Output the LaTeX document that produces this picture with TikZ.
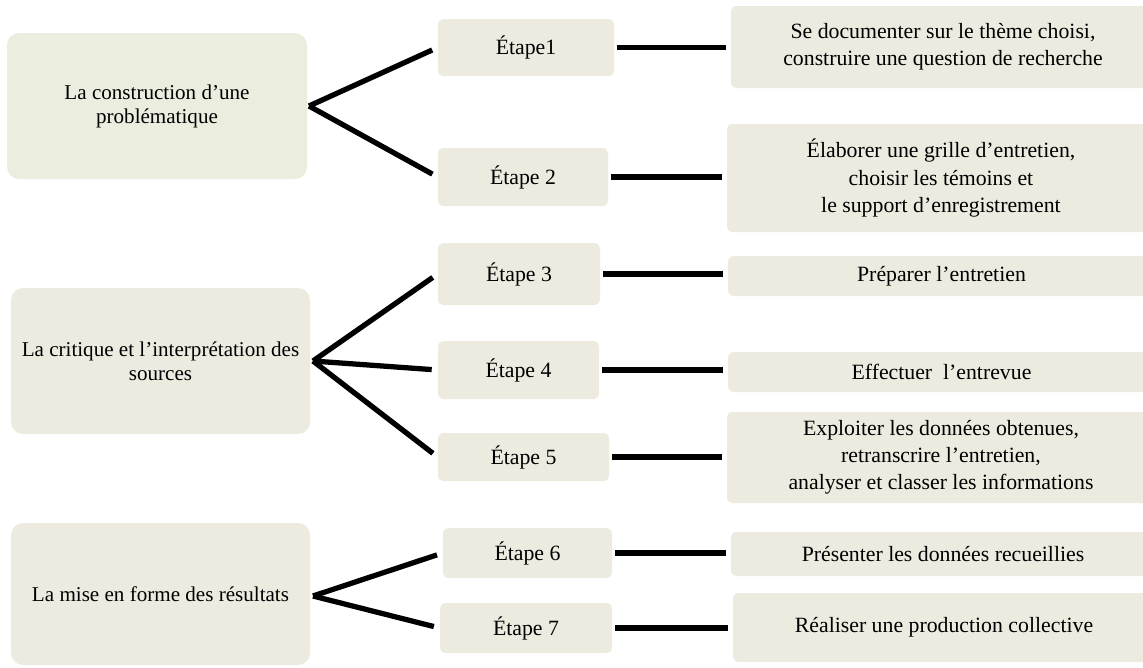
\documentclass[tikz,border=0pt]{standalone}
\usepackage{fontspec}
\setmainfont{Liberation Serif}
\definecolor{phasegreen}{RGB}{235,238,222}
\definecolor{stepbeige}{RGB}{237,235,224}

\begin{document}
\begin{tikzpicture}[x=0.02cm, y=-0.02cm,
    size/.style 2 args={minimum width=#1*0.02cm, minimum height=#2*0.02cm},
    phasebox/.style={fill=stepbeige, rounded corners=0.24cm, inner sep=0pt, align=center,
                     font=\fontsize{12}{13.6}\selectfont},
    etapebox/.style={fill=stepbeige, rounded corners=0.1cm, inner sep=0pt,
                     font=\fontsize{12.4}{14}\selectfont},
    taskbox/.style={fill=stepbeige, rounded corners=0.1cm, inner sep=0pt, align=center,
                    font=\fontsize{12.4}{15.4}\selectfont},
    fork/.style={line width=3pt, shorten >=3.4pt},
    link/.style={line width=3pt, shorten <=1.7pt, shorten >=2.8pt}]
    \useasboundingbox (0,0) rectangle (1143,667);

    % phases
    \node[phasebox, size={300}{146}, fill=phasegreen] (phaseA) at (157,106) {La construction d’une\\problématique};
    \node[phasebox, size={299}{146}] (phaseB) at (160.5,361) {La critique et l’interprétation des\\sources};
    \node[phasebox, size={299}{142}] (phaseC) at (160.5,594) {La mise en forme des résultats};

    % etapes
    \node[etapebox, size={176}{57}] (e1) at (526,47.5) {Étape1};
    \node[etapebox, size={170}{58}] (e2) at (523,177) {Étape 2};
    \node[etapebox, size={162}{62}] (e3) at (519,274) {Étape 3};
    \node[etapebox, size={161}{58}] (e4) at (518.5,370) {Étape 4};
    \node[etapebox, size={171}{48}] (e5) at (523.5,457) {Étape 5};
    \node[etapebox, size={169}{50}] (e6) at (527.5,553) {Étape 6};
    \node[etapebox, size={172}{50}] (e7) at (526,628) {Étape 7};

    % taches
    \node[taskbox, size={424}{82}] (t1) at (943,47) {Se documenter sur le thème choisi,\\construire une question de recherche};
    \node[taskbox, size={428}{108}] (t2) at (941,178) {Élaborer une grille d’entretien,\\choisir les témoins et\\le support d’enregistrement};
    \node[taskbox, size={427}{40}] (t3) at (941.5,276) {Préparer l’entretien};
    \node[taskbox, size={427}{40}] (t4) at (941.5,372) {Effectuer\ \ l’entrevue};
    \node[taskbox, size={428}{91}] (t5) at (941,457.5) {Exploiter les données obtenues,\\retranscrire l’entretien,\\analyser et classer les informations};
    \node[taskbox, size={424}{44}] (t6) at (943,554) {Présenter les données recueillies};
    \node[taskbox, size={422}{69}] (t7) at (944,627.5) {Réaliser une production collective};

    % fourches
    \coordinate (forkA) at (309,106);
    \coordinate (forkB) at (313,361);
    \coordinate (forkC) at (313,596);
    \draw[fork] (forkA) -- (e1.west);
    \draw[fork] (forkA) -- (e2.west);
    \draw[fork] (forkB) -- (e3.west);
    \draw[fork] (forkB) -- (e4.west);
    \draw[fork] (forkB) -- (e5.west);
    \draw[fork] (forkC) -- (e6.west);
    \draw[fork] (forkC) -- (e7.west);

    % liens etape -> tache
    \foreach \i in {1,...,7}
        \draw[link] (e\i.east) -- (e\i.east -| t\i.west);
\end{tikzpicture}
\end{document}
